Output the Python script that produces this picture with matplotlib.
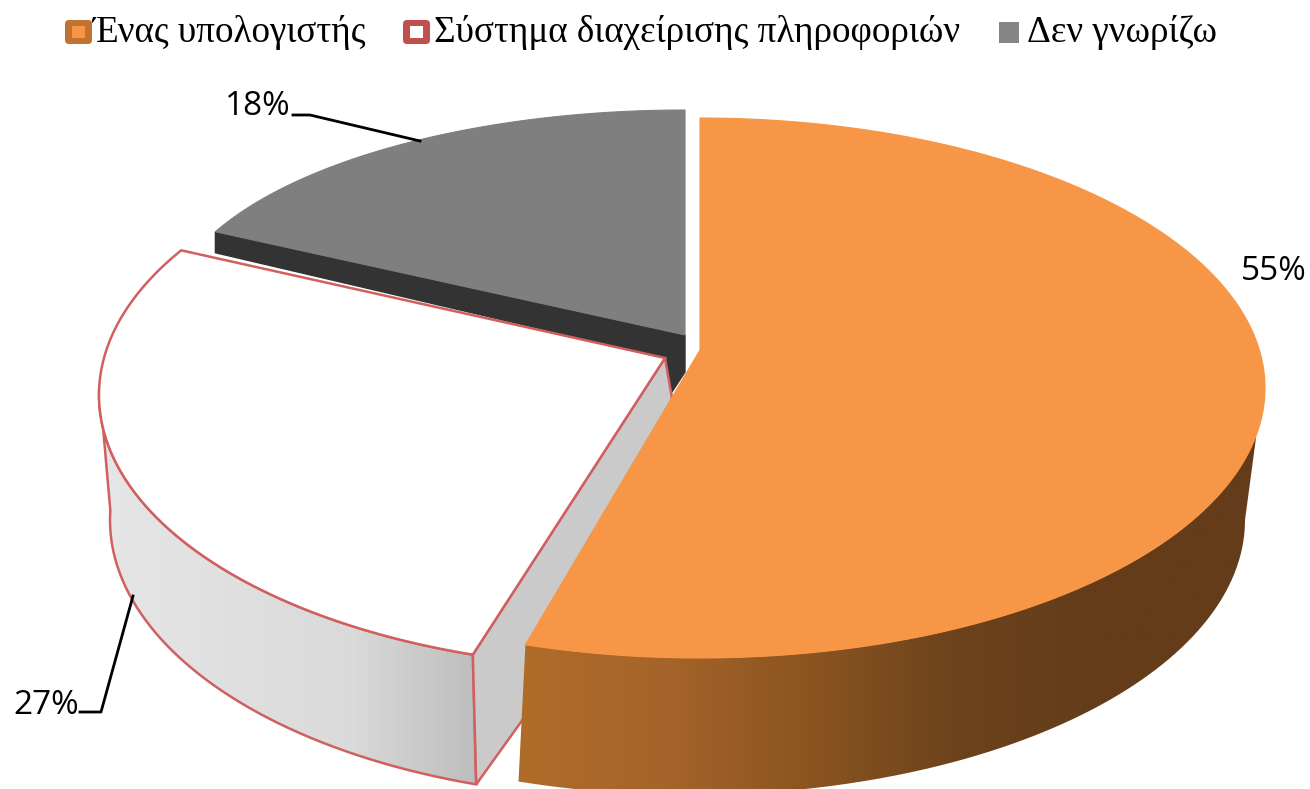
import numpy as np
import matplotlib
matplotlib.use("Agg")
import matplotlib.pyplot as plt
from matplotlib.patches import PathPatch, FancyBboxPatch, Rectangle
from matplotlib.path import Path
from matplotlib.colors import LinearSegmentedColormap

categories = ["Ένας υπολογιστής", "Σύστημα διαχείρισης πληροφοριών", "Δεν γνωρίζω"]
values = [55, 27, 18]
value_labels = ["55%", "27%", "18%"]

W, H = 1310, 789
fig = plt.figure(figsize=(W / 100, H / 100), dpi=100, facecolor="white")
ax = fig.add_axes([0, 0, 1, 1])

# cumulative sweep, clockwise from twelve o'clock, in degrees
edges = np.concatenate([[0], np.cumsum(values)]) / sum(values) * 360.0


def arc(g, a, b, n=240):
    t = np.radians(np.linspace(a, b, n))
    return np.column_stack([g[0] + g[2] * np.sin(t), g[1] - g[3] * np.cos(t)])


def poly(ax, pts, **kw):
    p = PathPatch(Path(np.vstack([pts, pts[:1]])), **kw)
    ax.add_patch(p)
    return p


def shaded(ax, pts, stops, zorder):
    clip = poly(ax, pts, fc="none", ec="none", zorder=zorder)
    cmap = LinearSegmentedColormap.from_list("s", stops)
    im = ax.imshow(np.linspace(0, 1, 512)[None, :], cmap=cmap, aspect="auto",
                   extent=(pts[:, 0].min(), pts[:, 0].max(), H, 0), zorder=zorder)
    im.set_clip_path(clip)


# layout of each exploded slice: (cx, cy, rx, ry)
o_top, o_bot, o_apex = (700, 388, 565, 270), (690, 520, 555, 275), (700, 350)
w_top, w_bot, w_apex = (640, 395, 541, 273), (640, 520, 530, 278), (665, 358)
g_top, g_apex = (685, 322, 519, 212), (685, 335)
ORANGE, RED = "#f79646", "#d0605f"
W_SKEW = 6.8  # perspective shift of the far corner of the white slice

# grey slice: dark cut face, then top
g_arc = arc(g_top, edges[2], edges[3])
c = g_arc[0]
poly(ax, np.array([c, g_apex, (685, 372), (668, 398), w_apex, (c[0], c[1] + 21)]),
     fc="#333333", ec="#333333", lw=1, zorder=1)
poly(ax, np.vstack([g_arc, [g_apex]]), fc="#7f7f7f", ec="#7f7f7f", lw=0.8, zorder=2)

# white slice: outer wall, cut face, top
w_a, w_b = edges[1], edges[2] + W_SKEW
wall = np.vstack([arc(w_top, w_a, 272), arc(w_bot, 272, w_a)])
shaded(ax, wall, ["#e6e6e6", "#e0e0e0", "#dadada", "#bdbdbd"], 3)
poly(ax, wall, fc="none", ec=RED, lw=1.8, zorder=4)
w_arc = arc(w_top, w_a, w_b)
s0, b0 = w_arc[0], arc(w_bot, w_a, w_a, 1)[0]
poly(ax, np.array([w_apex, s0, b0, (521, 722), (600, 600), (672, 398)]),
     fc="#cacaca", ec=RED, lw=1.8, zorder=5)
poly(ax, np.vstack([w_arc, [w_apex]]), fc="white", ec=RED, lw=1.8, zorder=6)

# orange slice: outer wall, top
wall = np.vstack([arc(o_top, 100, edges[1]), arc(o_bot, edges[1], 90)])
shaded(ax, wall, ["#b06c28", "#a5642a", "#8a5420", "#6c421c", "#643c1a", "#643c1a"], 7)
poly(ax, np.vstack([arc(o_top, edges[0], edges[1]), [o_apex]]),
     fc=ORANGE, ec=ORANGE, lw=0.8, zorder=8)

# leader lines and value labels
ax.plot([293, 310, 420], [115, 115, 141], color="black", lw=2, zorder=9)
ax.plot([80, 101, 133], [712, 712, 596], color="black", lw=2, zorder=9)
lab = dict(family="Open Sans", fontsize=24, color="black", va="center", zorder=10)
ax.text(1241, 271, value_labels[0], ha="left", **lab)
ax.text(13, 705, value_labels[1], ha="left", **lab)
ax.text(225, 106, value_labels[2], ha="left", **lab)

# legend
leg = dict(family="Liberation Serif", color="black", va="center", zorder=10, fontsize=26.7)
ax.text(92, 32, categories[0], ha="left", **leg)
ax.text(434, 32, categories[1], ha="left", **leg)
ax.text(1027, 32, categories[2], ha="left", **leg)
for x, fc, inner in [(65, "#c0732f", ORANGE), (403, "#c0504d", "white")]:
    ax.add_patch(FancyBboxPatch((x + 3, 23), 21, 18, boxstyle="round,pad=3,rounding_size=4",
                                fc=fc, ec="none", zorder=10))
    ax.add_patch(Rectangle((x + 7, 26), 13, 12, fc=inner, ec="none", zorder=11))
ax.add_patch(Rectangle((999, 22), 20, 21, fc="#868686", ec="none", zorder=10))

ax.set_xlim(0, W)
ax.set_ylim(H, 0)
ax.axis("off")
fig.savefig("out.png", dpi=100)
